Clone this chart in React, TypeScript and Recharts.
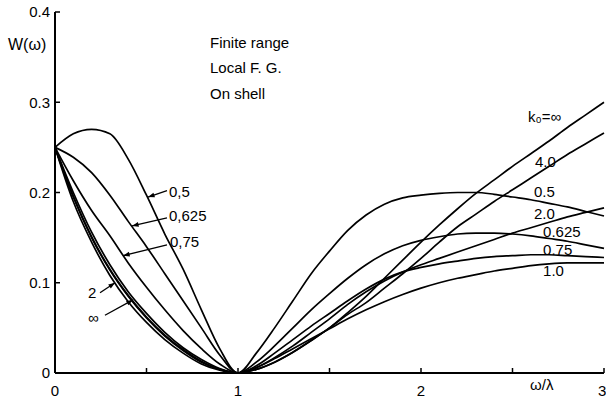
import { LineChart, Line, XAxis, YAxis, ReferenceLine, ReferenceDot } from 'recharts'

// omega / lambda, step 0.1
const omega = [
  0, 0.1, 0.2, 0.3, 0.4, 0.5, 0.6, 0.7, 0.8, 0.9, 1.0,
  1.1, 1.2, 1.3, 1.4, 1.5, 1.6, 1.7, 1.8, 1.9, 2.0,
  2.1, 2.2, 2.3, 2.4, 2.5, 2.6, 2.7, 2.8, 2.9, 3.0,
]

const w05 = [
  0.25, 0.265, 0.27, 0.265, 0.237, 0.197, 0.154, 0.115, 0.07, 0.027, 0,
  0.022, 0.05, 0.08, 0.11, 0.135, 0.158, 0.175, 0.187, 0.194, 0.197,
  0.199, 0.2, 0.2, 0.198, 0.195, 0.192, 0.188, 0.184, 0.179, 0.174,
]
const w0625 = [
  0.25, 0.239, 0.222, 0.197, 0.168, 0.14, 0.11, 0.08, 0.05, 0.02, 0,
  0.012, 0.03, 0.05, 0.07, 0.088, 0.105, 0.12, 0.132, 0.141, 0.147,
  0.151, 0.154, 0.155, 0.155, 0.154, 0.152, 0.149, 0.146, 0.142, 0.138,
]
const w075 = [
  0.25, 0.213, 0.18, 0.152, 0.122, 0.095, 0.07, 0.047, 0.027, 0.01, 0,
  0.008, 0.022, 0.037, 0.052, 0.066, 0.08, 0.093, 0.104, 0.112, 0.117,
  0.121, 0.124, 0.127, 0.129, 0.13, 0.131, 0.131, 0.13, 0.129, 0.128,
]
const w10 = [
  0.25, 0.2, 0.156, 0.12, 0.09, 0.066, 0.045, 0.028, 0.015, 0.005, 0,
  0.006, 0.016, 0.027, 0.038, 0.049, 0.06, 0.07, 0.079, 0.087, 0.094,
  0.1, 0.105, 0.109, 0.113, 0.116, 0.119, 0.121, 0.122, 0.122, 0.122,
]
const w20 = [
  0.25, 0.19, 0.145, 0.108, 0.079, 0.056, 0.037, 0.022, 0.01, 0.003, 0,
  0.006, 0.017, 0.03, 0.045, 0.06, 0.076, 0.09, 0.102, 0.112, 0.12,
  0.127, 0.134, 0.141, 0.148, 0.155, 0.161, 0.167, 0.173, 0.178, 0.183,
]
const w40 = [
  0.25, 0.195, 0.15, 0.114, 0.085, 0.061, 0.041, 0.025, 0.012, 0.004, 0,
  0.004, 0.012, 0.023, 0.036, 0.05, 0.065, 0.078, 0.094, 0.11, 0.127,
  0.145, 0.162, 0.176, 0.19, 0.203, 0.216, 0.229, 0.242, 0.254, 0.266,
]
const wInf = [
  0.25, 0.196, 0.151, 0.115, 0.086, 0.062, 0.042, 0.026, 0.013, 0.004, 0,
  0.004, 0.012, 0.023, 0.036, 0.05, 0.067, 0.085, 0.105, 0.125, 0.145,
  0.164, 0.182, 0.199, 0.214, 0.229, 0.243, 0.257, 0.272, 0.286, 0.3,
]

const seriesKeys = ['k05', 'k0625', 'k075', 'k10', 'k20', 'k40', 'kInf']
const seriesValues = [w05, w0625, w075, w10, w20, w40, wInf]

const xTicks = [0, 0.5, 1, 1.5, 2, 2.5, 3]
const yTicks = [0, 0.1, 0.2, 0.3, 0.4]

// curve labels: [text, omega, W] (text starts at the point)
const curveLabels: [string, number, number][] = [
  ['0,5', 0.623, 0.2005],
  ['0,625', 0.623, 0.174],
  ['0,75', 0.628, 0.145],
  ['2', 0.18, 0.089],
  ['∞', 0.18, 0.061],
  ['k₀=∞', 2.585, 0.284],
  ['4.0', 2.623, 0.234],
  ['0.5', 2.617, 0.2005],
  ['2.0', 2.617, 0.177],
  ['0.625', 2.667, 0.157],
  ['0.75', 2.667, 0.137],
  ['1.0', 2.667, 0.113],
]

// arrows from label to curve: [omega1, W1, omega2, W2]
const arrows: [number, number, number, number][] = [
  [0.612, 0.202, 0.508, 0.195],
  [0.612, 0.172, 0.421, 0.163],
  [0.612, 0.142, 0.372, 0.13],
  [0.246, 0.089, 0.328, 0.1],
  [0.273, 0.064, 0.426, 0.081],
]

const infoText = ['Finite range', 'Local F. G.', 'On shell']
const infoY = [0.3657, 0.338, 0.31]

const data = omega.map((w, i) => {
  const row: Record<string, number> = { w }
  seriesKeys.forEach((k, j) => { row[k] = seriesValues[j][i] })
  return row
})

const FONT = '"Liberation Sans", Arial, sans-serif'

function Arrow(props: any) {
  const { x1, y1, x2, y2 } = props
  const a = Math.atan2(y2 - y1, x2 - x1)
  const L = 7, s = 0.35
  const p1 = `${x2 - L * Math.cos(a - s)},${y2 - L * Math.sin(a - s)}`
  const p2 = `${x2 - L * Math.cos(a + s)},${y2 - L * Math.sin(a + s)}`
  return (
    <g>
      <line x1={x1} y1={y1} x2={x2} y2={y2} stroke="#000" strokeWidth={1.3} />
      <polygon points={`${x2},${y2} ${p1} ${p2}`} fill="#000" />
    </g>
  )
}

const tickStyle = { fill: '#000', fontSize: 15, fontFamily: FONT }

export default function App() {
  return (
    <div style={{ position: 'absolute', left: 0, top: 0, width: 606, height: 399, background: '#fff', fontFamily: FONT }}>
      <LineChart width={606} height={399} data={data} margin={{ top: 12, right: 2, bottom: 0, left: 0 }}>
        <XAxis
          dataKey="w" type="number" domain={[0, 3]} ticks={xTicks} height={26}
          tickSize={-5} tickMargin={17} tick={tickStyle}
          tickFormatter={(v: number) => (Number.isInteger(v) ? String(v) : '')}
          axisLine={{ stroke: '#000', strokeWidth: 2 }} tickLine={{ stroke: '#000', strokeWidth: 1.5 }}
        />
        <XAxis
          xAxisId="top" orientation="top" dataKey="w" type="number" domain={[0, 3]} ticks={xTicks} height={0}
          tickSize={-5} tickFormatter={() => ''}
          axisLine={{ stroke: '#000', strokeWidth: 2 }} tickLine={{ stroke: '#000', strokeWidth: 1.5 }}
        />
        <YAxis
          type="number" domain={[0, 0.4]} ticks={yTicks} width={55}
          tickSize={-5} tickMargin={10} tick={tickStyle}
          tickFormatter={(v: number) => (v === 0 ? '0' : v.toFixed(1))}
          axisLine={{ stroke: '#000', strokeWidth: 2 }} tickLine={{ stroke: '#000', strokeWidth: 1.5 }}
        />
        <YAxis
          yAxisId="right" orientation="right" type="number" domain={[0, 0.4]} ticks={yTicks} width={0}
          tickSize={-5} tickFormatter={() => ''}
          axisLine={{ stroke: '#000', strokeWidth: 2 }} tickLine={{ stroke: '#000', strokeWidth: 1.5 }}
        />
        {seriesKeys.map((k) => (
          <Line
            key={k} type="monotone" dataKey={k} stroke="#000" strokeWidth={1.7}
            dot={false} isAnimationActive={false}
          />
        ))}
        {arrows.map((a, i) => (
          <ReferenceLine
            key={'a' + i}
            segment={[{ x: a[0], y: a[1] }, { x: a[2], y: a[3] }]}
            shape={Arrow}
          />
        ))}
        {curveLabels.map(([t, x, y], i) => (
          <ReferenceDot
            key={'l' + i} x={x} y={y} r={0} fill="none" stroke="none"
            label={{ value: t, position: 'right', offset: 0, fill: '#000', fontSize: 15, fontFamily: FONT }}
          />
        ))}
        {infoText.map((t, i) => (
          <ReferenceDot
            key={'t' + i} x={0.847} y={infoY[i]} r={0} fill="none" stroke="none"
            label={{ value: t, position: 'right', offset: 0, fill: '#000', fontSize: 15, fontFamily: FONT }}
          />
        ))}
      </LineChart>
      <div style={{ position: 'absolute', left: 8, top: 36, fontSize: 16, color: '#000' }}>W(ω)</div>
      <div style={{ position: 'absolute', left: 530, top: 376, fontSize: 15, color: '#000' }}>ω/λ</div>
    </div>
  )
}
